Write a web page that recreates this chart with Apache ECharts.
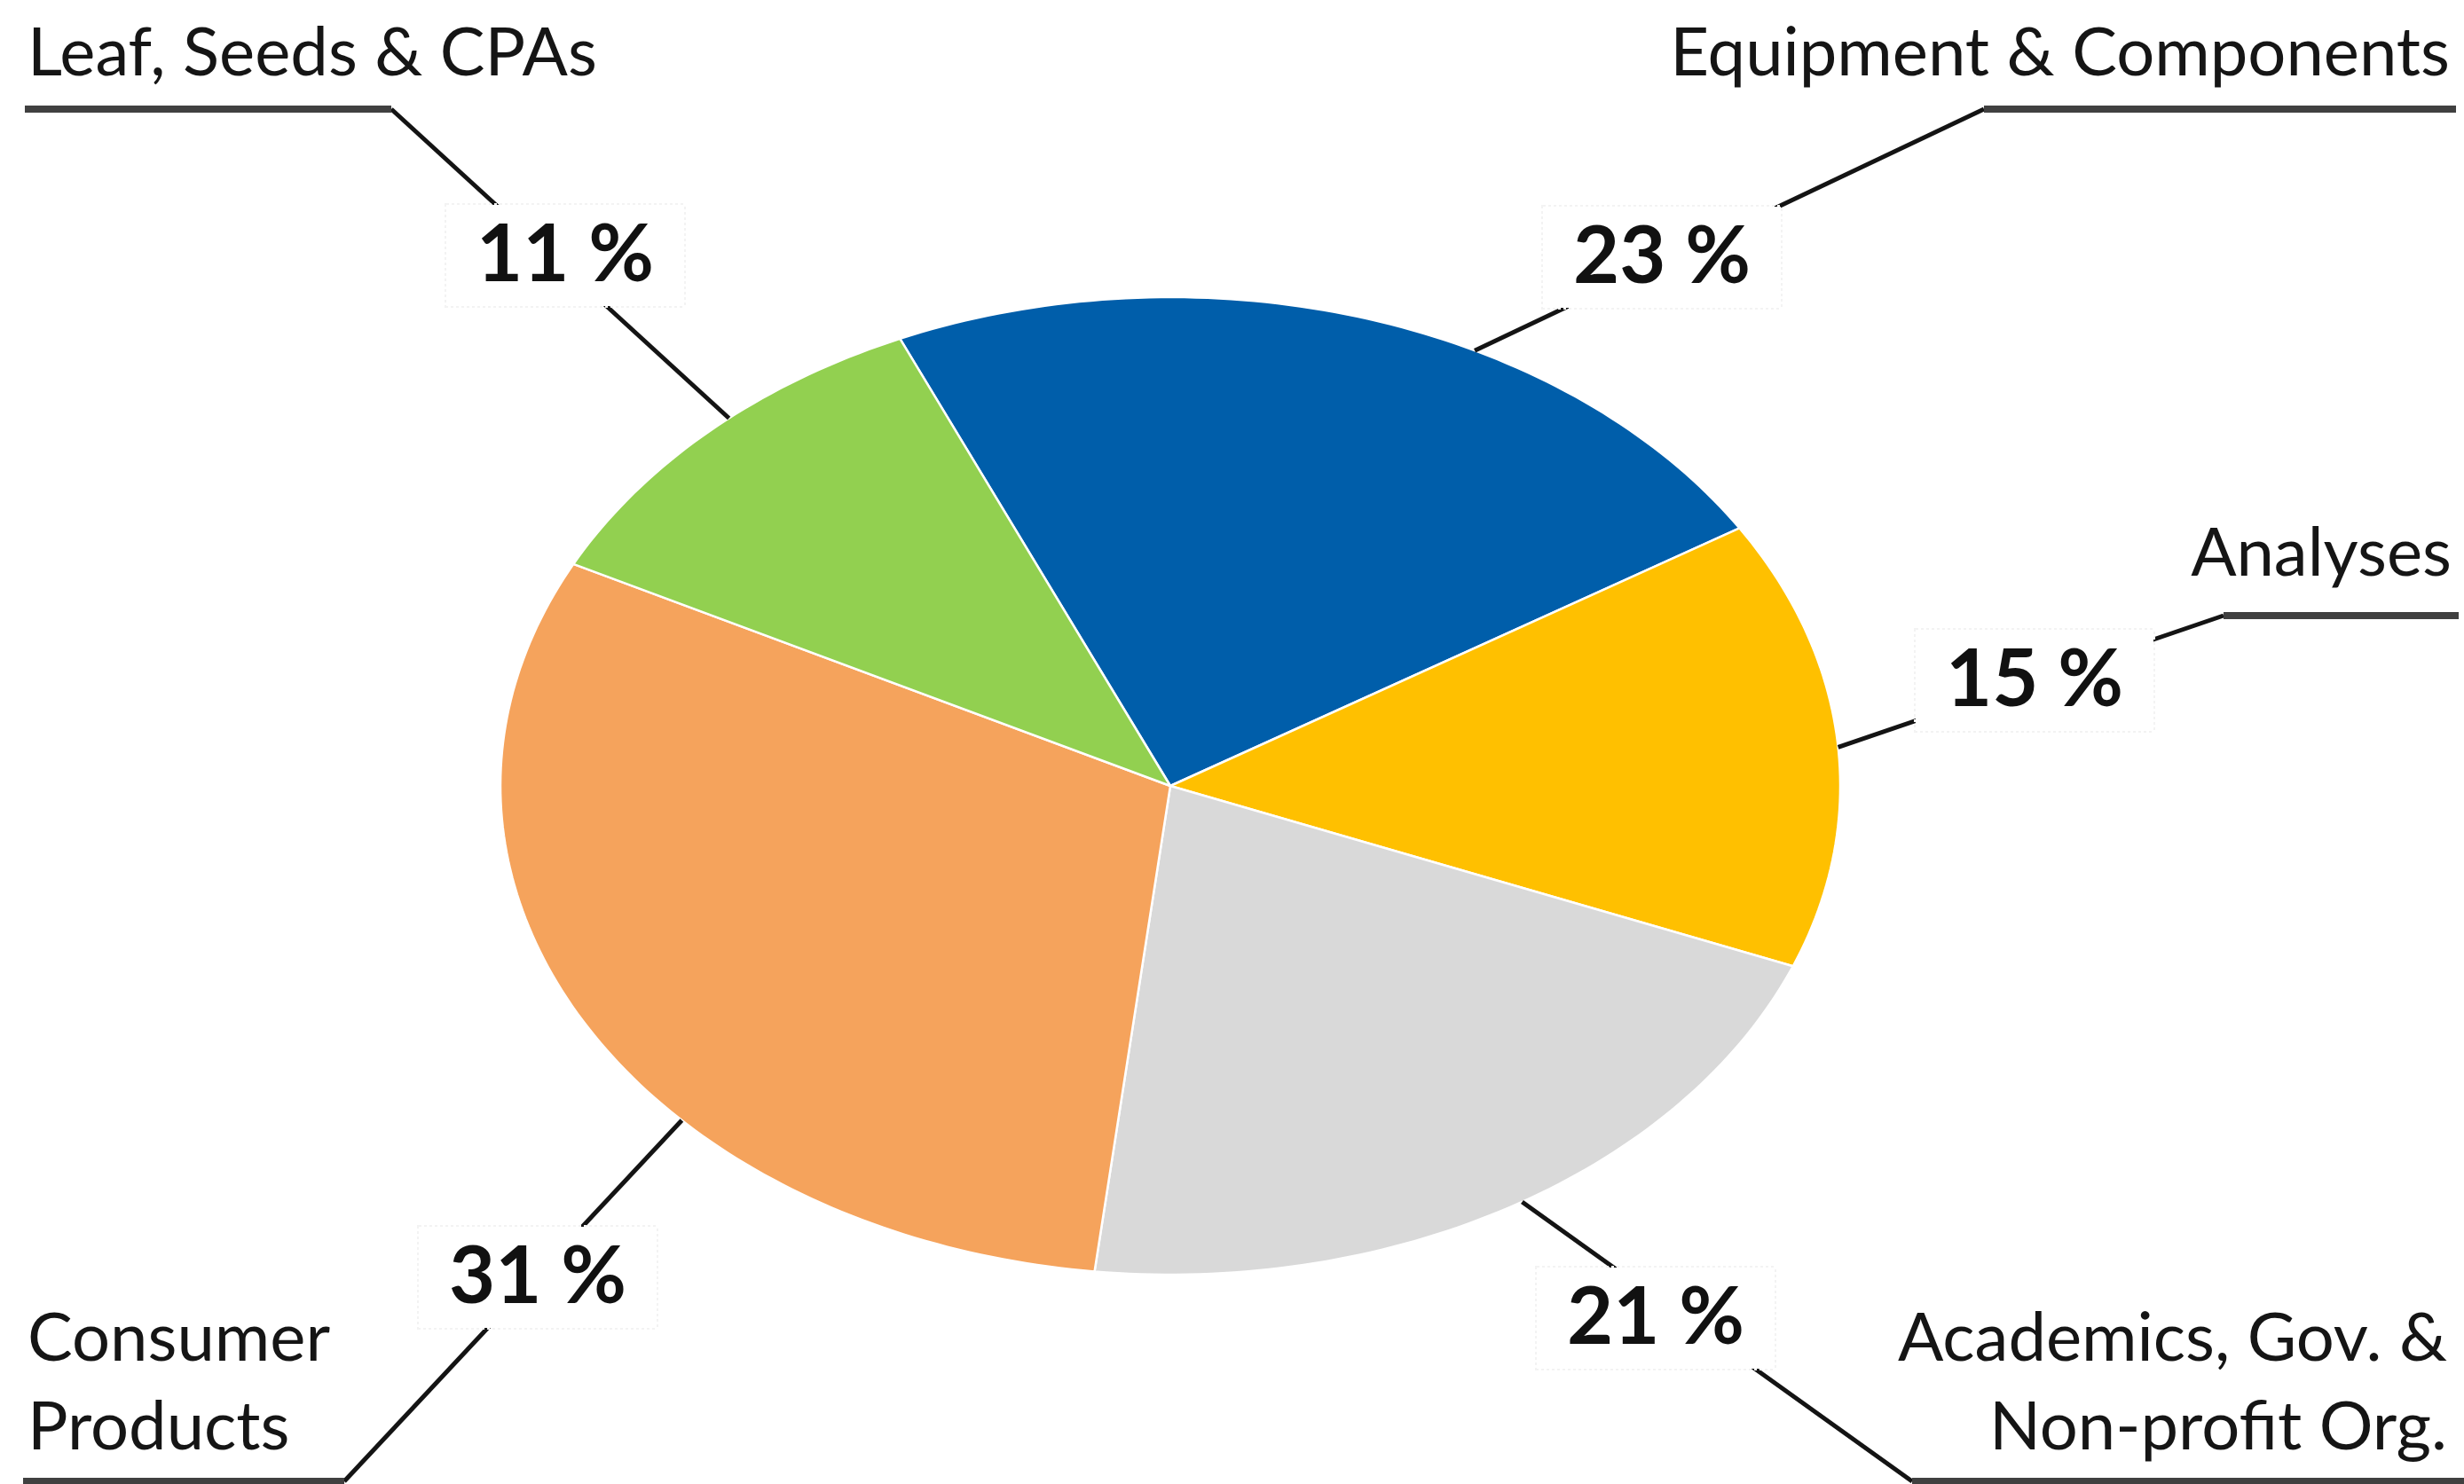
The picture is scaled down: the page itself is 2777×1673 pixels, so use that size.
<!DOCTYPE html>
<html>
<head>
<meta charset="UTF-8">
<title>Segments</title>
<script src="https://cdn.jsdelivr.net/npm/echarts@6/dist/echarts.min.js"></script>
<style>
  html, body { margin: 0; padding: 0; background: #fff; }
  #container { width: 2777px; height: 1673px; }
</style>
</head>
<body>
<div id="container"></div>
<script>
// slices, clockwise from the top
var categories = ['Equipment & Components', 'Analyses', 'Academics, Gov. &\nNon-profit Org.', 'Consumer\nProducts', 'Leaf, Seeds & CPAs'];
var shares = [23, 15, 21, 31, 11];
var colors = ['#005EAA', '#FFC000', '#D9D9D9', '#F5A35C', '#92D050'];

// tilted pie = ellipse (px)
var pie = { cx: 1319, cy: 886, rx: 755, ry: 551, startAngle: -23.8 };

// callout layout: at = where on the slice rim the leader starts (0..1)
var callouts = [
  { at: 0.62, elbow: [2236, 123], lineEnd: 2768, pct: [1873, 290], name: [2761, 60], align: 'right' },
  { at: 0.51, elbow: [2506, 694], lineEnd: 2771, pct: [2293, 767], name: [2763, 624], align: 'right' },
  { at: 0.49, elbow: [2155, 1670], lineEnd: 2777, pct: [1866, 1486], name: [2758, 1559], align: 'right' },
  { at: 0.365, elbow: [388, 1670], lineEnd: 26, pct: [606, 1440], name: [31, 1559], align: 'left' },
  { at: 0.556, elbow: [441, 123], lineEnd: 28, pct: [637, 288], name: [31, 60], align: 'left' }
];

var total = shares.reduce(function (s, v) { return s + v; }, 0);
var angles = [pie.startAngle];
shares.forEach(function (v, i) {
  angles.push(angles[i] + v / total * 360);
});

function ellipsePoint(deg) {
  var r = deg * Math.PI / 180;
  return [pie.cx + pie.rx * Math.sin(r), pie.cy - pie.ry * Math.cos(r)];
}

function renderSlice(params, api) {
  var i = params.dataIndex;
  var a0 = angles[i], a1 = angles[i + 1];
  var pts = [[pie.cx, pie.cy]];
  var n = Math.ceil(a1 - a0);
  for (var k = 0; k <= n; k++) {
    pts.push(ellipsePoint(a0 + (a1 - a0) * k / n));
  }
  return {
    type: 'polygon',
    shape: { points: pts },
    style: { fill: colors[i], stroke: '#ffffff', lineWidth: 2.5, lineJoin: 'round' }
  };
}

function renderCallout(params, api) {
  var i = params.dataIndex;
  var c = callouts[i];
  var p0 = ellipsePoint(angles[i] + (angles[i + 1] - angles[i]) * c.at);
  return {
    type: 'group',
    children: [
      {
        type: 'line',
        shape: { x1: p0[0], y1: p0[1], x2: c.elbow[0], y2: c.elbow[1] },
        style: { stroke: '#141414', lineWidth: 5 }
      },
      {
        type: 'line',
        shape: { x1: c.elbow[0], y1: c.elbow[1], x2: c.lineEnd, y2: c.elbow[1] },
        style: { stroke: '#404040', lineWidth: 8 }
      },
      {
        type: 'text',
        x: c.pct[0], y: c.pct[1], z2: 10,
        style: {
          text: api.value(0) + ' %',
          fontFamily: 'Lato', fontWeight: 'bold', fontSize: 90,
          fill: '#111111', align: 'center', verticalAlign: 'middle',
          backgroundColor: '#ffffff', padding: [12, 34],
          borderColor: '#f3f3f3', borderWidth: 2, borderDash: [3, 3]
        }
      },
      {
        type: 'text',
        x: c.name[0], y: c.name[1], z2: 10,
        style: {
          text: categories[i],
          fontFamily: 'Lato', fontSize: 76, lineHeight: 100,
          fill: '#151515', align: c.align, verticalAlign: 'middle'
        }
      }
    ]
  };
}

var myChart = echarts.init(document.getElementById('container'));
var option = {
  backgroundColor: '#ffffff',
  animation: false,
  series: [
    {
      type: 'custom',
      coordinateSystem: 'none',
      silent: true,
      renderItem: renderSlice,
      data: shares
    },
    {
      type: 'custom',
      coordinateSystem: 'none',
      silent: true,
      z: 5,
      renderItem: renderCallout,
      data: shares
    }
  ]
};
myChart.setOption(option);
</script>
</body>
</html>
